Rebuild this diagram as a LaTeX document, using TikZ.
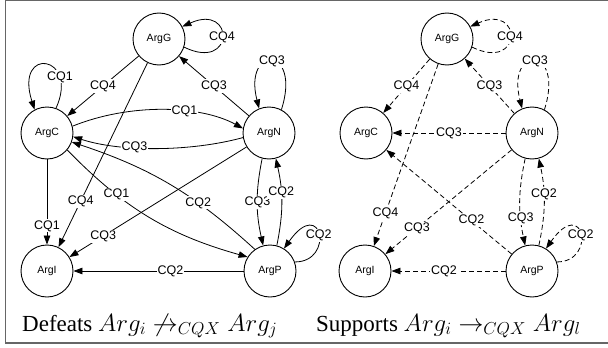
\documentclass[tikz,border=0pt]{standalone}
\usepackage{fontspec}
\setmainfont{Liberation Serif}
\newfontfamily\lblfont{Liberation Sans}
\usetikzlibrary{arrows.meta}
\tikzset{
  arg/.style={circle, draw, line width=0.9pt, minimum size=52pt, inner sep=0pt, font=\lblfont\fontsize{10.5}{12}\selectfont},
  lbl/.style={fill=white, inner sep=1pt, font=\lblfont\fontsize{12.5}{14}\selectfont},
  def/.style={draw, line width=0.8pt, -{Triangle[length=9pt,width=6.5pt]}},
  sup/.style={def, dash pattern=on 5pt off 3pt},
  captext/.style={anchor=base west, inner sep=0pt, font=\fontsize{23}{27}\selectfont},
}
\begin{document}
\begin{tikzpicture}[x=1pt,y=1pt]
\useasboundingbox (0,0) rectangle (608,-348);
\draw[black!60, line width=1.3pt] (5.5,-0.6) rectangle (613,-343);

% ---------- left: defeats ----------
\node[arg] (G) at (159,-39) {ArgG};
\node[arg] (C) at (47,-133) {ArgC};
\node[arg] (N) at (269,-133) {ArgN};
\node[arg] (I) at (47,-271) {ArgI};
\node[arg] (P) at (270,-271) {ArgP};

\draw[def] (G.-18) .. controls (235,-72) and (235,-3) .. (G.28) node[lbl,pos=0.5]{CQ4};
\draw[def] (C.70) .. controls (80,-55) and (14,-45) .. (C.118) node[lbl,pos=0.25]{CQ1};
\draw[def] (N.62) .. controls (302,-45) and (243,-45) .. (N.112) node[lbl,pos=0.5]{CQ3};
\draw[def] (G) -- (C) node[lbl,midway]{CQ4};
\draw[def] (N) -- (G) node[lbl,midway]{CQ3};
\draw[def] (C.15) .. controls (130,-103) and (200,-105) .. (N.170) node[lbl,pos=0.62]{CQ1};
\draw[def] (N.190) .. controls (190,-152) and (120,-152) .. (C.-8) node[lbl,pos=0.62]{CQ3};
\draw[def] (G) -- (I) node[lbl,pos=0.75]{CQ4};
\draw[def] (C) -- (I) node[lbl,pos=0.78]{CQ1};
\draw[def] (C.-40) to[bend right=15] node[lbl,pos=0.3]{CQ1} (P.148);
\draw[def] (P.125) to[bend right=12] node[lbl,pos=0.33]{CQ2} (C.-20);
\draw[def] (N) -- (I) node[lbl,pos=0.81]{CQ3};
\draw[def] (N.-105) to[bend right=12] node[lbl,pos=0.5]{CQ3} (P.105);
\draw[def] (P.75) to[bend right=12] node[lbl,pos=0.62]{CQ2} (N.-75);
\draw[def] (P.20) .. controls (335,-262) and (322,-195) .. (P.58) node[lbl,pos=0.5]{CQ2};
\draw[def] (P) -- (I) node[lbl,pos=0.43]{CQ2};

\node[captext] (capL) at (22,-331) {Defeats $Arg_i \not\rightarrow_{CQX} Arg_j$};

% ---------- right: supports ----------
\node[arg] (G2) at (447,-39) {ArgG};
\node[arg] (C2) at (366,-133) {ArgC};
\node[arg] (N2) at (532,-133) {ArgN};
\node[arg] (I2) at (365,-271) {ArgI};
\node[arg] (P2) at (532,-271) {ArgP};

\draw[sup] (G2.-18) .. controls (523,-72) and (523,-3) .. (G2.28) node[lbl,pos=0.5]{CQ4};
\draw[sup] (G2) -- (C2) node[lbl,midway]{CQ4};
\draw[sup] (N2) -- (G2) node[lbl,midway]{CQ3};
\draw[sup] (N2.62) .. controls (565,-45) and (506,-45) .. (N2.112) node[lbl,pos=0.5]{CQ3};
\draw[sup] (N2) -- (C2) node[lbl,midway]{CQ3};
\draw[sup] (G2) -- (I2) node[lbl,pos=0.82]{CQ4};
\draw[sup] (N2) -- (I2) node[lbl,pos=0.75]{CQ3};
\draw[sup] (P2) -- (C2) node[lbl,pos=0.32]{CQ2};
\draw[sup] (N2.-105) to[bend right=12] node[lbl,pos=0.7]{CQ3} (P2.105);
\draw[sup] (P2.75) to[bend right=12] node[lbl,pos=0.6]{CQ2} (N2.-75);
\draw[sup] (P2.20) .. controls (597,-262) and (584,-195) .. (P2.58) node[lbl,pos=0.5]{CQ2};
\draw[sup] (P2) -- (I2) node[lbl,pos=0.54]{CQ2};

\node[captext] (capR) at (316,-331) {Supports $Arg_i \rightarrow_{CQX} Arg_l$};
\end{tikzpicture}
\end{document}
